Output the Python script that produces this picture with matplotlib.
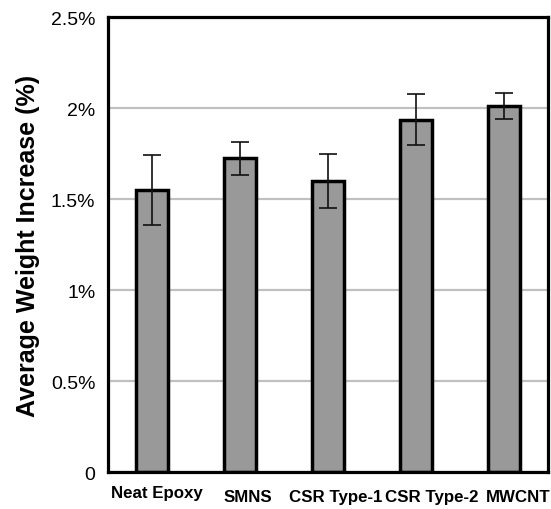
import numpy as np
import matplotlib.pyplot as plt
from matplotlib.ticker import FuncFormatter
import matplotlib.transforms as mtransforms

plt.rcParams['font.family'] = ['Liberation Sans', 'DejaVu Sans']

materials = ['Neat Epoxy', 'SMNS', 'CSR Type-1', 'CSR Type-2', 'MWCNT']
weight_gain = [1.55, 1.725, 1.60, 1.937, 2.012]   # average weight increase, %
weight_err = [0.19, 0.09, 0.15, 0.14, 0.07]

x = np.arange(len(materials))

fig = plt.figure(figsize=(5.51, 5.10), dpi=100)
ax = fig.add_axes([0.196, 0.0716, 0.7986, 0.8931])

ax.yaxis.grid(True, color='#c0c0c0', linewidth=1.6)
ax.set_axisbelow(True)

ax.bar(x, weight_gain, width=0.37, color='#999999', edgecolor='black',
       linewidth=2.5, zorder=2)
ax.errorbar(x, weight_gain, yerr=weight_err, fmt='none', ecolor='#111111',
            elinewidth=1.2, capsize=6.5, capthick=1.2, zorder=3)

ax.set_xlim(-0.5, len(materials) - 0.5)
ax.set_ylim(0, 2.5)
ax.set_yticks(np.arange(0, 2.51, 0.5))
ax.yaxis.set_major_formatter(FuncFormatter(lambda v, p: '0' if v == 0 else f'{v:g}%'))
ax.tick_params(axis='y', length=0, pad=9, labelsize=14)
ax.tick_params(axis='x', length=0, pad=12)

ax.set_xticks(x)
ax.set_xticklabels(materials, fontsize=12.2, fontweight='bold')
# excel-style label placement: labels drift right, first one sits a little higher
shifts = [(5, 4), (8, 0), (8, 0), (16, 0), (14, 0)]
for lab, (dx, dy) in zip(ax.get_xticklabels(), shifts):
    lab.set_transform(lab.get_transform() +
                      mtransforms.ScaledTranslation(dx / 100, dy / 100, fig.dpi_scale_trans))

for s in ax.spines.values():
    s.set_linewidth(2.3)

ax.set_ylabel('Average Weight Increase (%)', fontsize=18, fontweight='bold', labelpad=8)

fig.savefig('out.png', dpi=100)
